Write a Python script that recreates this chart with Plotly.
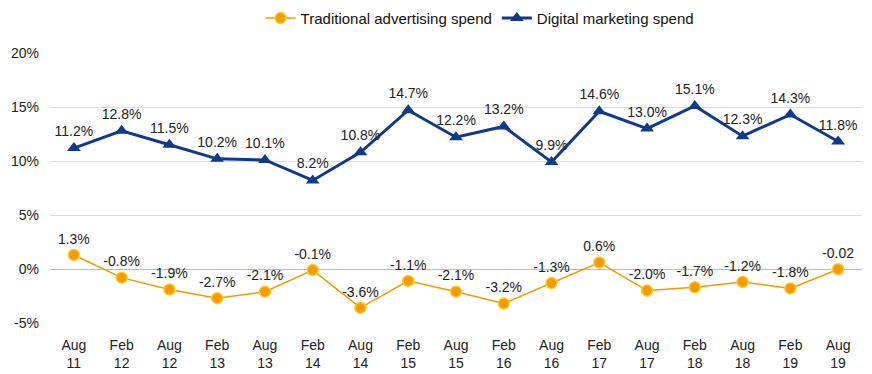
import plotly.graph_objects as go

categories = ["Aug<br>11", "Feb<br>12", "Aug<br>12", "Feb<br>13", "Aug<br>13", "Feb<br>14",
              "Aug<br>14", "Feb<br>15", "Aug<br>15", "Feb<br>16", "Aug<br>16", "Feb<br>17",
              "Aug<br>17", "Feb<br>18", "Aug<br>18", "Feb<br>19", "Aug<br>19"]
traditional = [1.3, -0.8, -1.9, -2.7, -2.1, -0.1, -3.6, -1.1, -2.1, -3.2, -1.3, 0.6,
               -2.0, -1.7, -1.2, -1.8, -0.02]
traditional_labels = ["1.3%", "-0.8%", "-1.9%", "-2.7%", "-2.1%", "-0.1%", "-3.6%", "-1.1%",
                      "-2.1%", "-3.2%", "-1.3%", "0.6%", "-2.0%", "-1.7%", "-1.2%", "-1.8%", "-0.02"]
digital = [11.2, 12.8, 11.5, 10.2, 10.1, 8.2, 10.8, 14.7, 12.2, 13.2, 9.9, 14.6,
           13.0, 15.1, 12.3, 14.3, 11.8]
digital_labels = [f"{v:.1f}%" for v in digital]
y_ticks = [-5, 0, 5, 10, 15, 20]
y_tick_labels = ["-5%", "0%", "5%", "10%", "15%", "20%"]

font = "Liberation Sans, Arial, sans-serif"

fig = go.Figure()
fig.add_trace(go.Scatter(
    x=categories, y=traditional, name="Traditional advertising spend",
    mode="lines+markers+text", text=traditional_labels, textposition="top center",
    textfont=dict(size=14, color="#222222", family=font),
    line=dict(color="#F59B00", width=1.5),
    marker=dict(symbol="circle", size=11, color="#F59B00", line=dict(color="#FFC82E", width=1.5)),
))
fig.add_trace(go.Scatter(
    x=categories, y=digital, name="Digital marketing spend",
    mode="lines+markers+text", text=digital_labels, textposition="top center",
    textfont=dict(size=14, color="#222222", family=font),
    line=dict(color="#0F3A8A", width=3),
    marker=dict(symbol="triangle-up", size=12, color="#0F3A8A"),
))

fig.update_layout(
    width=872, height=374,
    margin=dict(l=50, r=10, t=53, b=51),
    paper_bgcolor="white", plot_bgcolor="white",
    font=dict(family=font, size=14, color="#222222"),
    showlegend=True,
    legend=dict(orientation="h", xref="container", yref="container",
                x=0.55, xanchor="center", y=0.995, yanchor="top",
                font=dict(size=15, color="#111111"), itemwidth=30,
                tracegroupgap=0, bgcolor="rgba(0,0,0,0)"),
    xaxis=dict(type="category", range=[-0.5, 16.5], showgrid=False, showline=False,
               ticks="outside", ticklen=9, tickcolor="rgba(0,0,0,0)", automargin=False,
               tickfont=dict(size=14, color="#222222"), fixedrange=True),
    yaxis=dict(range=[-5, 20], tickvals=y_ticks, ticktext=y_tick_labels,
               showgrid=True, gridcolor="#DCDCDC", gridwidth=1,
               zeroline=True, zerolinecolor="#BDBDBD", zerolinewidth=1,
               showline=False, ticks="", ticklabelstandoff=10, automargin=False,
               tickfont=dict(size=14, color="#222222"), fixedrange=True),
)

fig.write_html("out.html", config={"displayModeBar": False, "staticPlot": True},
               post_script="document.body.style.margin='0';")
